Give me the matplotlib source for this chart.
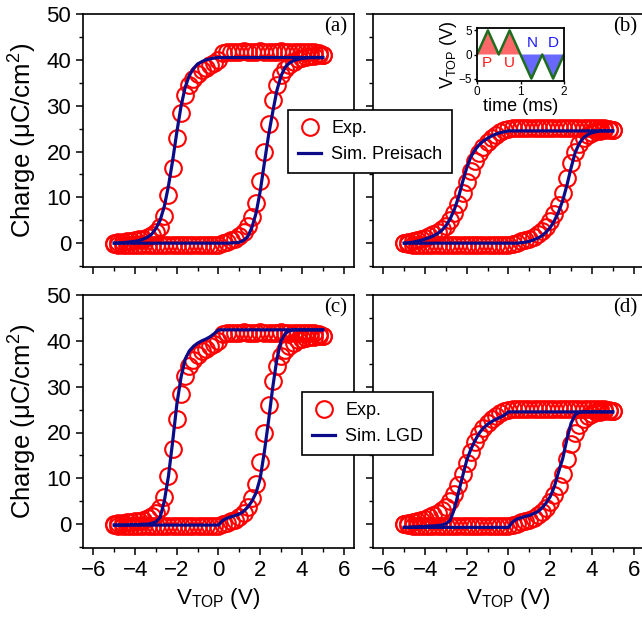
import matplotlib
matplotlib.use("Agg")
import matplotlib.pyplot as plt
from matplotlib.ticker import MultipleLocator

plt.rcParams['font.family'] = ['Liberation Sans', 'DejaVu Sans']
plt.rcParams['mathtext.fontset'] = 'custom'
plt.rcParams['mathtext.rm'] = 'Liberation Sans'
plt.rcParams['mathtext.it'] = 'Liberation Sans:italic'
plt.rcParams['mathtext.bf'] = 'Liberation Sans:bold'

# ---------------- data ----------------
V = [-5.0, -4.8, -4.6, -4.4, -4.2, -4.0, -3.8, -3.6, -3.4, -3.2,
     -3.0, -2.8, -2.6, -2.4, -2.2, -2.0, -1.8, -1.6, -1.4, -1.2,
     -1.0, -0.8, -0.6, -0.4, -0.2, 0.0, 0.2, 0.4, 0.6, 0.8,
     1.0, 1.2, 1.4, 1.6, 1.8, 2.0, 2.2, 2.4, 2.6, 2.8,
     3.0, 3.2, 3.4, 3.6, 3.8, 4.0, 4.2, 4.4, 4.6, 4.8, 5.0]

# experiment, sample A (panels a, c) -- upper and lower branches
expA_up = [0.0, 0.2, 0.3, 0.4, 0.5, 0.6, 0.8, 1.0, 1.3, 1.7,
           2.4, 3.6, 6.0, 10.5, 16.5, 23.0, 28.5, 32.4, 34.5, 35.9,
           36.9, 37.7, 38.3, 38.9, 39.4, 40.0, 41.5, 41.8, 41.8, 41.8,
           41.8, 41.9, 41.8, 41.8, 41.8, 41.9, 41.8, 41.8, 41.8, 41.8,
           41.9, 41.8, 41.8, 41.8, 41.8, 41.8, 41.8, 41.8, 41.7, 41.5, 41.0]
expA_lo = [-0.1, -0.3, -0.4, -0.4, -0.4, -0.4, -0.4, -0.4, -0.4, -0.4,
           -0.4, -0.4, -0.4, -0.4, -0.4, -0.4, -0.4, -0.4, -0.4, -0.4,
           -0.4, -0.4, -0.4, -0.4, -0.4, -0.3, 0.0, 0.3, 0.6, 1.0,
           1.6, 2.5, 3.8, 5.7, 8.7, 13.5, 19.8, 26.0, 31.2, 34.6,
           36.7, 38.0, 38.9, 39.6, 40.1, 40.4, 40.6, 40.8, 40.9, 41.0, 41.0]

# experiment, sample B (panels b, d)
expB_up = [0.1, 0.3, 0.5, 0.7, 0.9, 1.2, 1.5, 1.9, 2.4, 3.0,
           3.8, 5.0, 6.6, 8.6, 10.9, 13.4, 15.8, 17.9, 19.6, 21.0,
           22.1, 23.0, 23.7, 24.2, 24.6, 24.9, 25.2, 25.2, 25.2, 25.2,
           25.2, 25.2, 25.2, 25.2, 25.2, 25.2, 25.2, 25.2, 25.2, 25.2,
           25.2, 25.2, 25.2, 25.2, 25.2, 25.2, 25.2, 25.2, 25.1, 25.0, 24.7]
expB_lo = [0.1, -0.2, -0.4, -0.4, -0.4, -0.4, -0.4, -0.4, -0.4, -0.4,
           -0.4, -0.4, -0.4, -0.4, -0.4, -0.4, -0.4, -0.4, -0.4, -0.4,
           -0.4, -0.4, -0.4, -0.4, -0.4, -0.3, -0.1, 0.1, 0.4, 0.7,
           1.0, 1.4, 1.9, 2.6, 3.5, 4.8, 6.3, 8.4, 11.0, 14.2,
           17.4, 20.0, 21.7, 22.9, 23.7, 24.1, 24.4, 24.5, 24.6, 24.7, 24.7]

# Preisach simulation
preA_up = [0.0, 0.05, 0.1, 0.2, 0.3, 0.4, 0.6, 0.9, 1.3, 2.0,
           3.2, 5.0, 8.0, 12.5, 18.0, 24.2, 29.8, 34.0, 36.6, 38.1,
           39.1, 39.6, 40.0, 40.2, 40.4, 40.5, 40.5, 40.5, 40.5, 40.5,
           40.5, 40.5, 40.5, 40.5, 40.5, 40.5, 40.5, 40.5, 40.5, 40.5,
           40.5, 40.5, 40.5, 40.5, 40.5, 40.5, 40.5, 40.5, 40.5, 40.5, 40.5]
preA_lo = [0.0, 0.0, 0.0, 0.0, 0.0, 0.0, 0.0, 0.0, 0.0, 0.0,
           0.0, 0.0, 0.0, 0.0, 0.0, 0.0, 0.0, 0.0, 0.0, 0.0,
           0.0, 0.0, 0.0, 0.0, 0.0, 0.0, 0.0, 0.0, 0.05, 0.1,
           0.2, 0.6, 1.4, 3.4, 6.5, 11.3, 17.5, 23.5, 28.6, 33.3,
           36.5, 38.4, 39.3, 39.8, 40.1, 40.3, 40.4, 40.5, 40.5, 40.5, 40.5]
preB_up = [0.0, 0.1, 0.2, 0.4, 0.6, 0.9, 1.2, 1.6, 2.1, 2.8,
           3.8, 5.3, 7.3, 10.0, 13.4, 16.5, 18.9, 20.4, 21.5, 22.3,
           22.9, 23.4, 23.8, 24.1, 24.3, 24.5, 24.5, 24.5, 24.5, 24.5,
           24.5, 24.5, 24.5, 24.5, 24.5, 24.5, 24.5, 24.5, 24.5, 24.5,
           24.5, 24.5, 24.5, 24.5, 24.5, 24.5, 24.5, 24.5, 24.5, 24.5, 24.5]
preB_lo = [0.0, 0.0, 0.0, 0.0, 0.0, 0.0, 0.0, 0.0, 0.0, 0.0,
           0.0, 0.0, 0.0, 0.0, 0.0, 0.0, 0.0, 0.0, 0.0, 0.0,
           0.0, 0.0, 0.0, 0.0, 0.0, 0.0, 0.0, 0.0, 0.1, 0.2,
           0.4, 0.7, 1.1, 1.6, 2.4, 3.4, 4.9, 6.8, 9.3, 12.6,
           16.4, 19.8, 21.8, 23.0, 23.7, 24.1, 24.3, 24.5, 24.5, 24.5, 24.5]

# LGD simulation
lgdA_up = [-0.2, -0.2, -0.2, -0.2, -0.1, -0.1, -0.1, 0.0, 0.0, 0.2,
           0.5, 1.5, 5.0, 10.5, 18.0, 26.1, 32.0, 36.0, 37.8, 38.8,
           39.5, 40.0, 40.4, 40.9, 41.6, 42.4, 42.4, 42.4, 42.4, 42.4,
           42.4, 42.4, 42.4, 42.4, 42.4, 42.4, 42.4, 42.4, 42.4, 42.4,
           42.4, 42.4, 42.4, 42.4, 42.4, 42.4, 42.4, 42.4, 42.4, 42.4, 42.4]
lgdA_lo = [-0.2, -0.2, -0.2, -0.2, -0.2, -0.2, -0.2, -0.2, -0.2, -0.2,
           -0.2, -0.2, -0.2, -0.2, -0.2, -0.2, -0.2, -0.2, -0.2, -0.2,
           -0.2, -0.2, -0.2, -0.2, -0.2, -0.2, 0.8, 1.3, 1.6, 1.9,
           2.2, 2.8, 3.7, 5.0, 6.8, 10.0, 15.8, 22.5, 29.8, 36.0,
           40.0, 41.6, 42.2, 42.4, 42.4, 42.4, 42.4, 42.4, 42.4, 42.4, 42.4]
lgdB_up = [-0.7, -0.7, -0.6, -0.6, -0.5, -0.5, -0.4, -0.4, -0.3, -0.2,
           0.1, 0.8, 3.3, 6.9, 10.5, 14.0, 16.4, 18.3, 19.9, 21.0,
           21.8, 22.4, 22.9, 23.3, 23.8, 24.5, 24.5, 24.5, 24.5, 24.5,
           24.5, 24.5, 24.5, 24.5, 24.5, 24.5, 24.5, 24.5, 24.5, 24.5,
           24.5, 24.5, 24.5, 24.5, 24.5, 24.5, 24.5, 24.5, 24.5, 24.5, 24.5]
lgdB_lo = [-0.7, -0.7, -0.7, -0.7, -0.7, -0.7, -0.7, -0.7, -0.7, -0.7,
           -0.7, -0.7, -0.7, -0.7, -0.7, -0.7, -0.7, -0.7, -0.7, -0.7,
           -0.7, -0.7, -0.7, -0.7, -0.7, -0.7, 0.5, 1.1, 1.4, 1.7,
           1.9, 2.3, 2.7, 3.5, 4.6, 6.0, 8.2, 11.4, 14.3, 18.5,
           22.0, 23.9, 24.4, 24.5, 24.5, 24.5, 24.5, 24.5, 24.5, 24.5, 24.5]

for arr in (expA_up, expA_lo, expB_up, expB_lo, preA_up, preA_lo, preB_up,
            preB_lo, lgdA_up, lgdA_lo, lgdB_up, lgdB_lo):
    assert len(arr) == len(V), len(arr)

# inset PUND waveform
t_ms = [0.0, 0.25, 0.5, 0.75, 1.0, 1.25, 1.5, 1.75, 2.0]
v_top = [0, 5, 0, 5, 0, -5, 0, -5, 0]
pulse_names = ['P', 'U', 'N', 'D']

panel_labels = ['(a)', '(b)', '(c)', '(d)']
sim_names = ['Sim. Preisach', 'Sim. LGD']

# ---------------- style ----------------
RED = '#ff0000'
NAVY = '#0b0b8a'
FS_TICK = 16
FS_XLABEL = 16
FS_YLABEL = 18.5

fig = plt.figure(figsize=(6.42, 6.19), dpi=100)
W, H = 271 / 642, 253 / 619
lefts = [83 / 642, 373 / 642]
bottoms = [1 - 267 / 619, 1 - 548 / 619]

panels = [
    (expA_up, expA_lo, preA_up, preA_lo),
    (expB_up, expB_lo, preB_up, preB_lo),
    (expA_up, expA_lo, lgdA_up, lgdA_lo),
    (expB_up, expB_lo, lgdB_up, lgdB_lo),
]

for i, (eu, el, su, sl) in enumerate(panels):
    r, c = divmod(i, 2)
    ax = fig.add_axes([lefts[c], bottoms[r], W, H])
    hexp, = ax.plot(V[::-1], eu[::-1], 'o', ms=12, mfc='none', mec=RED,
                    mew=1.5, ls='none', label='Exp.', zorder=2)
    ax.plot(V, el, 'o', ms=12, mfc='none', mec=RED, mew=1.5, ls='none',
            zorder=2)
    hsim, = ax.plot(V, sl, '-', color=NAVY, lw=2.3, zorder=3,
                    label=sim_names[r])
    ax.plot(V[::-1], su[::-1], '-', color=NAVY, lw=2.3, zorder=3)
    ax.set_xlim(-6.5, 6.5)
    ax.set_ylim(-5.2, 50)
    ax.xaxis.set_major_locator(MultipleLocator(2))
    ax.xaxis.set_minor_locator(MultipleLocator(1))
    ax.yaxis.set_major_locator(MultipleLocator(10))
    ax.yaxis.set_minor_locator(MultipleLocator(5))
    ax.tick_params(which='major', length=5, width=1.1, labelsize=FS_TICK,
                   direction='out')
    ax.tick_params(which='minor', length=3, width=1.0, direction='out')
    for s in ax.spines.values():
        s.set_linewidth(1.2)
    if r == 0:
        ax.tick_params(labelbottom=False)
    else:
        ax.set_xlabel('V$_{\\rm TOP}$ (V)', fontsize=FS_XLABEL, labelpad=4)
    if c == 1:
        ax.tick_params(labelleft=False)
    else:
        ax.set_ylabel('Charge (μC/cm$^2$)', fontsize=FS_YLABEL, labelpad=5)
    ax.text(0.975, 0.95, panel_labels[i], transform=ax.transAxes,
            ha='right', va='center', fontsize=15,
            family=['Liberation Serif', 'DejaVu Serif'])
    if c == 0:
        anchor = (288 / 642, 1 - 110 / 619) if r == 0 else (302 / 642, 1 - 392 / 619)
        leg = fig.legend(handles=[hexp, hsim], loc='upper left',
                         bbox_to_anchor=anchor, bbox_transform=fig.transFigure,
                         fontsize=13, frameon=True, fancybox=False,
                         edgecolor='black', framealpha=1, borderaxespad=0,
                         handlelength=1.3, handletextpad=0.55,
                         borderpad=0.55, labelspacing=0.5)
        leg.get_frame().set_linewidth(1.2)

# ---------------- inset ----------------
ins = fig.add_axes([477 / 642, 1 - 81 / 619, 87 / 642, 53 / 619])
ins.fill_between(t_ms, v_top, 0, where=[v >= 0 for v in v_top],
                 interpolate=True, color='#ff6868', lw=0)
ins.fill_between(t_ms, v_top, 0, where=[v <= 0 for v in v_top],
                 interpolate=True, color='#6868ff', lw=0)
ins.plot(t_ms, v_top, color='#1f6e1f', lw=1.8)
pulse_pos = [(0.23, -1.8), (0.74, -1.8), (1.27, 2.4), (1.75, 2.4)]
pulse_col = ['#ff1a1a', '#ff1a1a', '#1a1aff', '#1a1aff']
for name, (tx, ty), col in zip(pulse_names, pulse_pos, pulse_col):
    ins.text(tx, ty, name, color=col, fontsize=11, ha='center', va='center')
ins.set_xlim(0, 2)
ins.set_ylim(-5.5, 5.5)
ins.set_xticks([0, 1, 2])
ins.set_yticks([-5, 0, 5])
ins.tick_params(labelsize=8.5, length=2.5, width=1, pad=1)
for s in ins.spines.values():
    s.set_linewidth(1.3)
ins.set_xlabel('time (ms)', fontsize=13, labelpad=0)
ins.set_ylabel('V$_{\\rm TOP}$ (V)', fontsize=13, labelpad=0)

fig.savefig('out.png', dpi=100)
